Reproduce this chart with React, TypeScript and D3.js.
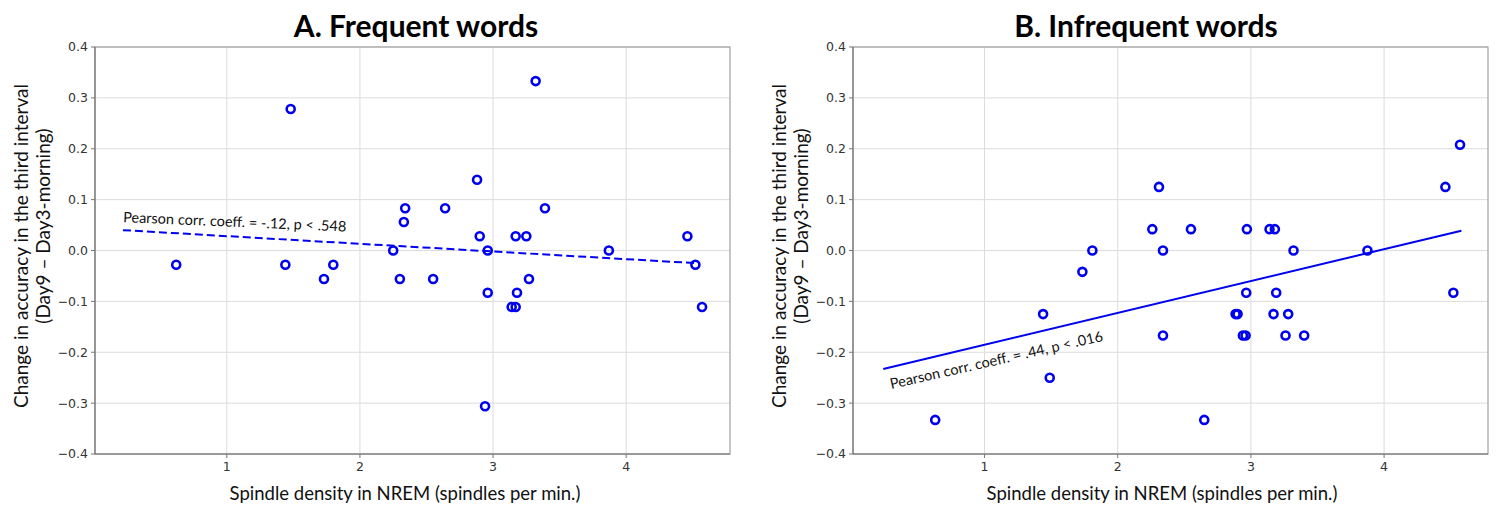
import * as d3 from 'd3';

// values
const freqPoints: [number, number][] = [
  [0.62, -0.028], [1.44, -0.028], [1.48, 0.278], [1.73, -0.056], [1.80, -0.028],
  [2.25, 0.0], [2.30, -0.056], [2.33, 0.056], [2.34, 0.083], [2.55, -0.056],
  [2.64, 0.083], [2.88, 0.139], [2.90, 0.028], [2.94, -0.306], [2.96, 0.0],
  [2.96, -0.083], [3.14, -0.111], [3.17, -0.111], [3.17, 0.028], [3.18, -0.083],
  [3.25, 0.028], [3.27, -0.056], [3.32, 0.333], [3.39, 0.083], [3.87, 0.0],
  [4.46, 0.028], [4.52, -0.028], [4.57, -0.111],
];

const infreqPoints: [number, number][] = [
  [0.63, -0.333], [1.44, -0.125], [1.49, -0.25], [1.735, -0.042], [1.81, 0.0],
  [2.26, 0.042], [2.31, 0.125], [2.34, 0.0], [2.34, -0.167], [2.55, 0.042],
  [2.65, -0.333], [2.885, -0.125], [2.90, -0.125], [2.94, -0.167], [2.96, -0.167],
  [2.965, -0.083], [2.97, 0.042], [3.14, 0.042], [3.17, -0.125], [3.18, 0.042],
  [3.19, -0.083], [3.26, -0.167], [3.28, -0.125], [3.32, 0.0], [3.40, -0.167],
  [3.875, 0.0], [4.46, 0.125], [4.52, -0.083], [4.57, 0.208],
];

const freqFit: [number, number][] = [[0.22, 0.04], [4.53, -0.025]];
const infreqFit: [number, number][] = [[0.24, -0.233], [4.58, 0.039]];

const xTicks = [1, 2, 3, 4];
const yTicks = [-0.4, -0.3, -0.2, -0.1, 0.0, 0.1, 0.2, 0.3, 0.4];

const titles = ['A. Frequent words', 'B. Infrequent words'];
const notes = ['Pearson corr. coeff. = -.12, p < .548', 'Pearson corr. coeff. = .44, p < .016'];
const yLabel1 = 'Change in accuracy in the third interval';
const yLabel2 = '(Day9 \u2013 Day3-morning)';
const xLabel = 'Spindle density in NREM (spindles per min.)';

const W = 1497;
const H = 506;
const BLUE = '#0000f0';
const labelFont = 'Lato, "Open Sans", sans-serif';
const tickFont = '"DejaVu Sans", sans-serif';

type PanelProps = {
  left: number;
  right: number;
  xDomain: [number, number];
  points: [number, number][];
  fit: [number, number][];
  dashed: boolean;
  title: string;
  titleX: number;
  note: string;
  noteAngle: number;
  noteDx: number;
  noteDy: number;
  xLabelX: number;
};

function Panel({ left, right, xDomain, points, fit, dashed, title, titleX, note, noteAngle, noteDx, noteDy, xLabelX }: PanelProps) {
  const top = 47;
  const bottom = 454;
  const x = d3.scaleLinear().domain(xDomain).range([left, right]);
  const y = d3.scaleLinear().domain([-0.4, 0.4]).range([bottom, top]);
  const fmt = d3.format('.1f');
  const line = d3.line<[number, number]>().x(d => x(d[0])).y(d => y(d[1]));

  // annotation sits next to the start of the fit line
  const nx = x(fit[0][0]) + noteDx;
  const ny = y(fit[0][1]) + noteDy;

  return (
    <g>
      {xTicks.map(t => (
        <line key={'gx' + t} x1={x(t)} x2={x(t)} y1={top} y2={bottom} stroke="#dcdcdc" strokeWidth={1} />
      ))}
      {yTicks.map(t => (
        <line key={'gy' + t} x1={left} x2={right} y1={y(t)} y2={y(t)} stroke="#dcdcdc" strokeWidth={1} />
      ))}
      <rect x={left} y={top} width={right - left} height={bottom - top} fill="none" stroke="#a0a0a0" strokeWidth={1.2} />
      <line x1={left} x2={left} y1={top} y2={bottom} stroke="#777" strokeWidth={1.2} />
      <line x1={left} x2={right} y1={bottom} y2={bottom} stroke="#777" strokeWidth={1.2} />

      {yTicks.map(t => (
        <g key={'ty' + t}>
          <line x1={left - 4} x2={left} y1={y(t)} y2={y(t)} stroke="#777" />
          <text x={left - 7} y={y(t)} dy="0.35em" textAnchor="end" fontFamily={tickFont} fontSize={12.5} fill="#333">
            {fmt(t)}
          </text>
        </g>
      ))}
      {xTicks.map(t => (
        <g key={'tx' + t}>
          <line x1={x(t)} x2={x(t)} y1={bottom} y2={bottom + 4} stroke="#777" />
          <text x={x(t)} y={bottom + 17} textAnchor="middle" fontFamily={tickFont} fontSize={12.5} fill="#333">
            {t}
          </text>
        </g>
      ))}

      <path d={line(fit) || ''} fill="none" stroke={BLUE} strokeWidth={2}
        strokeDasharray={dashed ? '8,4' : undefined} />

      {points.map((p, i) => (
        <circle key={i} cx={x(p[0])} cy={y(p[1])} r={4} fill="none" stroke={BLUE} strokeWidth={2.6} />
      ))}

      <text transform={`translate(${nx},${ny}) rotate(${noteAngle})`} fontFamily={labelFont} fontSize={14.5} fill="#111">
        {note}
      </text>

      <text x={titleX} y={37} textAnchor="middle" fontFamily={labelFont} fontWeight="bold" fontSize={30} fill="#000">
        {title}
      </text>

      <text transform={`translate(${left - 67},246) rotate(-90)`} textAnchor="middle" fontFamily={labelFont} fontSize={19} fill="#111">
        {yLabel1}
      </text>
      <text transform={`translate(${left - 45},226) rotate(-90)`} textAnchor="middle" fontFamily={labelFont} fontSize={19} fill="#111">
        {yLabel2}
      </text>
      <text x={xLabelX} y={500} textAnchor="middle" fontFamily={labelFont} fontSize={18.5} fill="#111">
        {xLabel}
      </text>
    </g>
  );
}

export default function App() {
  return (
    <svg width={W} height={H} style={{ position: 'absolute', left: 0, top: 0, background: '#fff' }}>
      <Panel left={95} right={730} xDomain={[0.01, 4.78]} points={freqPoints} fit={freqFit} dashed
        title={titles[0]} titleX={416} note={notes[0]} noteAngle={2.4} noteDx={0} noteDy={-8} xLabelX={405} />
      <Panel left={853} right={1488} xDomain={[0.013, 4.78]} points={infreqPoints} fit={infreqFit} dashed={false}
        title={titles[1]} titleX={1146} note={notes[1]} noteAngle={-12.8} noteDx={8} noteDy={20} xLabelX={1162} />
    </svg>
  );
}
